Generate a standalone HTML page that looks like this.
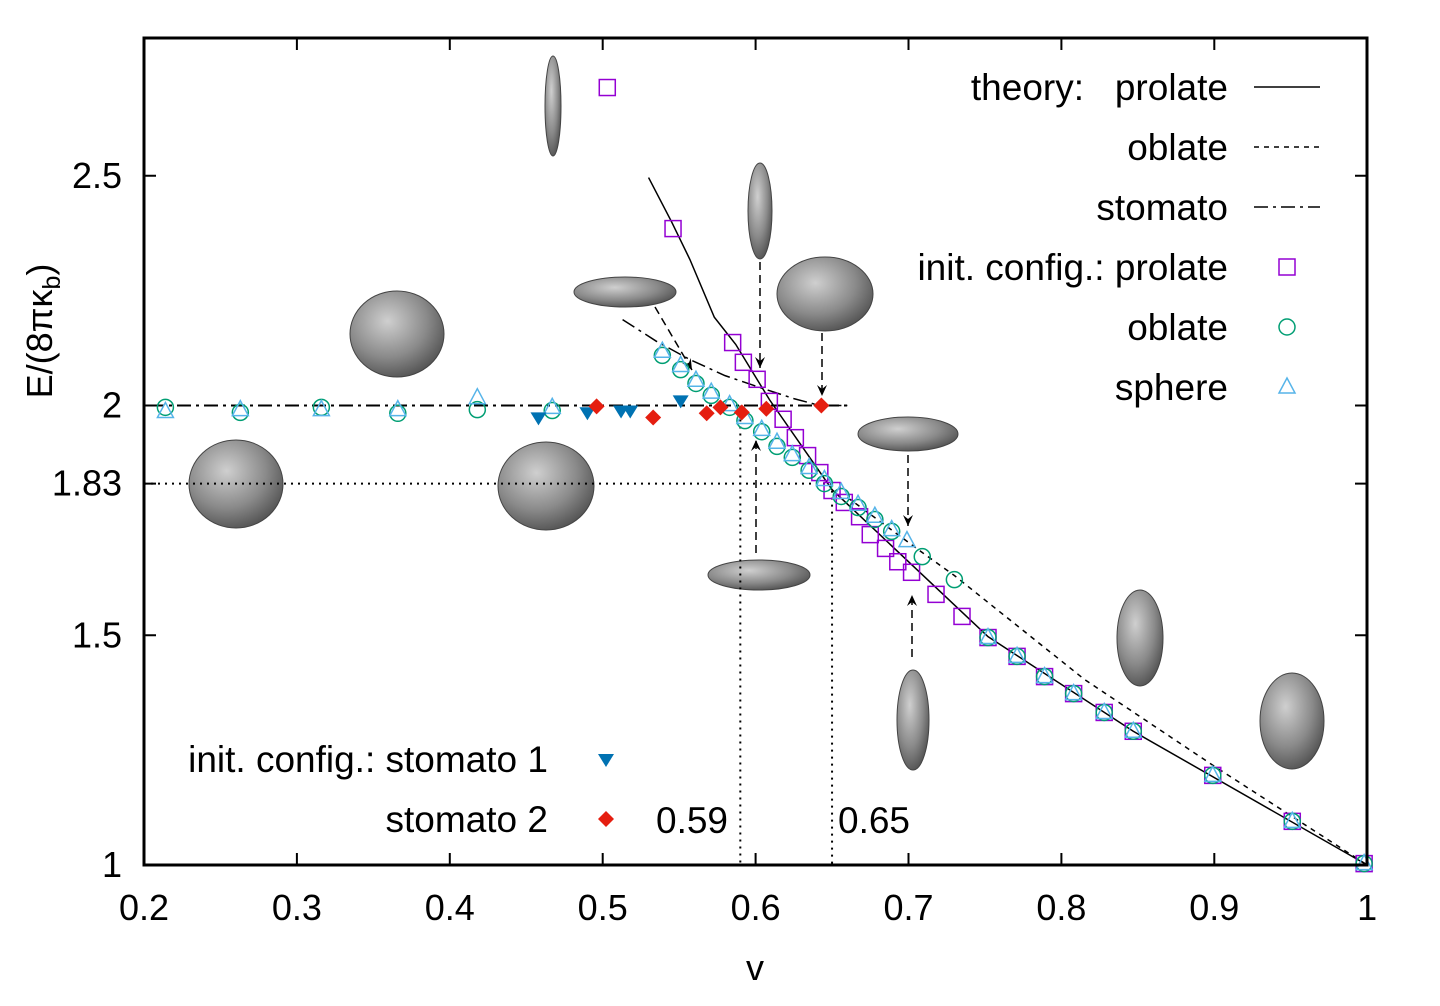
<!DOCTYPE html>
<html><head><meta charset="utf-8"><style>
html,body{margin:0;padding:0;background:#fff;}
svg{display:block;font-family:"Liberation Sans","DejaVu Sans",sans-serif;}
</style></head><body>
<svg id="chart" width="1440" height="1006" viewBox="0 0 1440 1006">
<defs>
<radialGradient id="ves" cx="40%" cy="35%" r="70%">
<stop offset="0" stop-color="#cfcfcf"/><stop offset="0.6" stop-color="#8a8a8a"/><stop offset="1" stop-color="#505050"/>
</radialGradient>
<marker id="arr" markerWidth="12" markerHeight="12" refX="11" refY="5" orient="auto" markerUnits="userSpaceOnUse">
<path d="M0,0 L11,5 L0,10 L4,5 Z" fill="#000"/></marker>
</defs>
<g id="vesicles"></g>
<g id="refs"></g>
<g id="lines"></g>
<g id="marks"></g>
<rect x="144" y="38" width="1223" height="827" fill="none" stroke="#000" stroke-width="3"/>
<g id="axes"></g>
<g id="legend"></g>
<text x="755" y="980" font-size="36" text-anchor="middle">v</text>
<text transform="translate(52,331) rotate(-90)" font-size="36" text-anchor="middle">E/(8πκ<tspan font-size="25" dy="8">b</tspan><tspan dy="-8">)</tspan></text>
<text x="656" y="833" font-size="37">0.59</text>
<text x="838" y="833" font-size="37">0.65</text>
</svg>
<script>
const xTicks=[0.2,0.3,0.4,0.5,0.6,0.7,0.8,0.9,1];
const xTickLabels=["0.2","0.3","0.4","0.5","0.6","0.7","0.8","0.9","1"];
const yTicks=[1,1.5,1.83,2,2.5];
const yTickLabels=["1","1.5","1.83","2","2.5"];
const prolV=[0.503,0.546,0.585,0.592,0.601,0.609,0.618,0.626,0.634,0.642,0.650,0.658,0.668,0.675,0.685,0.693,0.702,0.718,0.735,0.752,0.771,0.789,0.808,0.828,0.847,0.899,0.951,0.998];
const prolE=[2.692,2.385,2.137,2.094,2.057,2.009,1.970,1.930,1.891,1.854,1.815,1.789,1.758,1.719,1.689,1.660,1.637,1.589,1.541,1.495,1.454,1.410,1.373,1.332,1.291,1.195,1.095,1.003];
const oblV=[0.214,0.263,0.316,0.366,0.418,0.467,0.539,0.551,0.561,0.571,0.583,0.593,0.604,0.614,0.624,0.635,0.645,0.656,0.667,0.678,0.689,0.709,0.730,0.752,0.771,0.789,0.808,0.828,0.847,0.899,0.951,0.998];
const oblE=[1.996,1.985,1.996,1.983,1.991,1.989,2.109,2.078,2.048,2.022,1.996,1.967,1.943,1.911,1.887,1.859,1.830,1.802,1.778,1.752,1.726,1.671,1.621,1.495,1.454,1.410,1.373,1.332,1.291,1.195,1.095,1.003];
const sphV=[0.214,0.263,0.316,0.366,0.418,0.467,0.539,0.551,0.561,0.571,0.583,0.593,0.604,0.614,0.624,0.635,0.645,0.656,0.667,0.678,0.689,0.699,0.752,0.771,0.789,0.808,0.828,0.847,0.899,0.951,0.998];
const sphE=[1.987,1.991,1.991,1.991,2.017,1.996,2.118,2.087,2.055,2.029,2.002,1.974,1.948,1.920,1.893,1.865,1.839,1.811,1.785,1.759,1.730,1.706,1.495,1.454,1.410,1.373,1.332,1.291,1.195,1.095,1.003];
const st1V=[0.458,0.490,0.512,0.518,0.551];
const st1E=[1.972,1.983,1.987,1.987,2.009];
const st2V=[0.496,0.533,0.568,0.577,0.591,0.607,0.643];
const st2E=[1.998,1.974,1.983,1.996,1.985,1.993,2.0];
const thProlV=[0.530,0.545,0.557,0.573,0.587,0.609,0.650,0.752,0.847,1.0];
const thProlE=[2.496,2.400,2.318,2.192,2.133,2.013,1.817,1.497,1.291,1.0];
const thOblV=[0.660,0.709,0.730,0.815,0.900,1.0];
const thOblE=[1.800,1.680,1.630,1.404,1.215,1.0];
const thStoV=[0.513,0.535,0.557,0.580,0.603,0.625,0.642,0.66];
const thStoE=[2.187,2.140,2.100,2.065,2.039,2.015,2.0,2.0];
const NS="http://www.w3.org/2000/svg";
const X=v=>144+(v-0.2)*1529;
const Y=e=>865-(e-1)*459.5;
function mk(p,t,a){const e=document.createElementNS(NS,t);for(const k in a)e.setAttribute(k,a[k]);p.appendChild(e);return e;}
const G=id=>document.getElementById(id);
xTicks.forEach((v,i)=>{
 const l=mk(G('axes'),'path',{d:`M${X(v)},865v-12M${X(v)},38v12`,stroke:'#000','stroke-width':2});
 
 
 const t=mk(G('axes'),'text',{x:X(v),y:920,'font-size':36,'text-anchor':'middle'});t.textContent=xTickLabels[i];
 
 
});
yTicks.forEach((e,i)=>{
 const l=mk(G('axes'),'path',{d:`M144,${Y(e)}h12M1367,${Y(e)}h-12`,stroke:'#000','stroke-width':2});
 
 
 const t=mk(G('axes'),'text',{x:122,y:Y(e)+12,'font-size':36,'text-anchor':'end'});t.textContent=yTickLabels[i];
 
 
});
const R=G('refs');
mk(R,'path',{d:`M144,${Y(1.83)}H${X(0.65)}M${X(0.59)},${Y(2)}V865M${X(0.65)},${Y(1.83)}V865`,stroke:'#000','stroke-width':2,'stroke-dasharray':'2 5',fill:'none'});
mk(R,'path',{d:`M150,${Y(2)}H${X(0.66)}`,stroke:'#000','stroke-width':2,'stroke-dasharray':'14 5 3 5',fill:'none'});
const V=G('vesicles');
const ves=[[553,106,8,50],[760,211,12,48],[825,294,48,37],[625,292,51,15],[397,334,47,43],[236,484,47,44],[546,486,48,44],[908,434,50,17],[759,575,51,15],[1140,638,23,48],[913,720,16,50],[1292,721,32,48]];
ves.forEach(a=>{const e=mk(V,'ellipse',{cx:a[0],cy:a[1],rx:a[2],ry:a[3],fill:'url(#ves)',stroke:'#444','stroke-width':1});
 
 });
const arrows=[[760,262,760,368],[822,333,822,396],[908,455,908,526],[756,553,756,440],[912,657,912,595],[655,307,692,370]];
arrows.forEach(a=>{const e=mk(V,'path',{d:`M${a[0]},${a[1]}L${a[2]},${a[3]}`,stroke:'#000','stroke-width':1.5,'stroke-dasharray':'8 5',fill:'none','marker-end':'url(#arr)'});
 
 });
const L=G('lines');
const pl=(vs,es,da,nm)=>{const p=mk(L,'polyline',{points:vs.map((v,i)=>X(v)+','+Y(es[i])).join(' '),fill:'none',stroke:'#000','stroke-width':1.5,'stroke-dasharray':da});
 
 };
pl(thProlV,thProlE,'none','theory-prolate-line');
pl(thOblV,thOblE,'5 5','theory-oblate-line');
pl(thStoV,thStoE,'14 5 3 5','theory-stomato-line');
const M=G('marks');
function sq(x,y,nm){const e=mk(M,'rect',{x:x-8,y:y-8,width:16,height:16,fill:'none',stroke:'#9400d3','stroke-width':1.5});}
function ci(x,y,nm){const e=mk(M,'circle',{cx:x,cy:y,r:8,fill:'none',stroke:'#009e73','stroke-width':1.5});}
function tr(x,y,nm){const e=mk(M,'path',{d:`M${x},${y-9}L${x+8},${y+6}L${x-8},${y+6}Z`,fill:'none',stroke:'#56b4e9','stroke-width':1.5});}
function td(x,y,nm){const e=mk(M,'path',{d:`M${x-8},${y-6}L${x+8},${y-6}L${x},${y+7}Z`,fill:'#0072b2'});}
function di(x,y,nm){const e=mk(M,'path',{d:`M${x},${y-8}L${x+8},${y}L${x},${y+8}L${x-8},${y}Z`,fill:'#e51e10'});}
prolV.forEach((v,i)=>sq(X(v),Y(prolE[i]),'prolate-point'));
oblV.forEach((v,i)=>ci(X(v),Y(oblE[i]),'oblate-point'));
sphV.forEach((v,i)=>tr(X(v),Y(sphE[i]),'sphere-point'));
st1V.forEach((v,i)=>td(X(v),Y(st1E[i]),'stomato1-point'));
st2V.forEach((v,i)=>di(X(v),Y(st2E[i]),'stomato2-point'));
const LG=G('legend');
const lt=(x,y,s,nm)=>{const t=mk(LG,'text',{x:x,y:y,'font-size':37,'text-anchor':'end'});t.textContent=s;};
lt(1228,100,'theory:\u00a0\u00a0 prolate','legend-theory-prolate');
lt(1228,160,'oblate','legend-theory-oblate');
lt(1228,220,'stomato','legend-theory-stomato');
lt(1228,280,'init. config.: prolate','legend-init-prolate');
lt(1228,340,'oblate','legend-init-oblate');
lt(1228,400,'sphere','legend-init-sphere');
lt(548,772,'init. config.: stomato 1','legend-stomato1');
lt(548,832,'stomato 2','legend-stomato2');
mk(LG,'path',{d:'M1254,87H1320',stroke:'#000','stroke-width':1.5});
mk(LG,'path',{d:'M1254,147H1320',stroke:'#000','stroke-width':1.5,'stroke-dasharray':'5 5'});
mk(LG,'path',{d:'M1254,207H1320',stroke:'#000','stroke-width':1.5,'stroke-dasharray':'14 5 3 5'});
sq(1287,267,'legend-prolate-marker');ci(1287,327,'legend-oblate-marker');tr(1287,387,'legend-sphere-marker');
td(606,760,'legend-stomato1-marker');di(606,819,'legend-stomato2-marker');
</script>
</body></html>
